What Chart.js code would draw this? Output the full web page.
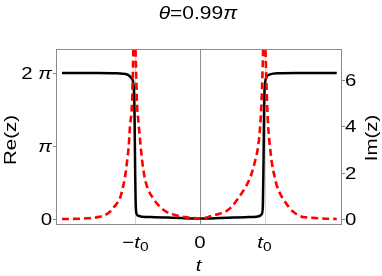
<!DOCTYPE html>
<html lang="en">
<head>
<meta charset="UTF-8">
<title>theta = 0.99 pi</title>
<script src="https://cdn.jsdelivr.net/npm/chart.js"></script>
<style>
  html, body { margin: 0; padding: 0; background: #fff; }
  canvas { display: block; }
</style>
</head>
<body>
<canvas id="c" width="382" height="276"></canvas>
<script>
// Re(z): black solid line
const reT    = [-2.14, -1.6, -1.3, -1.2, -1.11, -1.06, -1.03, -1.015, -1.005, -0.995, -0.98, -0.95, -0.9, -0.7, -0.5, -0.3, 0,
                0.3, 0.5, 0.7, 0.9, 0.93, 0.96, 0.975, 0.985, 0.995, 1.01, 1.034, 1.085, 1.2, 1.5, 2.12];
const reVals = [6.28, 6.28, 6.27, 6.25, 6.19, 6.05, 5.75, 4.5, 2.0, 0.5, 0.2, 0.13, 0.1, 0.08, 0.06, 0.04, 0.02,
                0.04, 0.06, 0.08, 0.11, 0.14, 0.22, 0.6, 2.5, 5.0, 5.85, 6.12, 6.22, 6.27, 6.28, 6.28];

// Im(z): red dashed line (peaks run off the top of the frame)
const imT    = [-2.14, -1.9, -1.75, -1.65, -1.5, -1.4, -1.35, -1.28, -1.24, -1.2, -1.16, -1.13, -1.106, -1.085, -1.054, -1.035, -1.016,
                -0.997, -0.977, -0.955, -0.926, -0.89, -0.853, -0.8, -0.729, -0.63, -0.519, -0.43, -0.341, -0.2, -0.1, 0,
                0.1, 0.181, 0.29, 0.388, 0.49, 0.594, 0.69, 0.775, 0.85, 0.904, 0.93, 0.955, 0.978, 0.997,
                1.016, 1.04, 1.059, 1.085, 1.112, 1.15, 1.189, 1.25, 1.318, 1.38, 1.446, 1.51, 1.577, 1.66, 1.75, 1.9, 2.12];
const imVals = [0.0, 0.01, 0.03, 0.05, 0.14, 0.3, 0.46, 0.7, 0.89, 1.3, 1.85, 2.5, 3.1, 4.0, 5.0, 7.0, 9.5,
                7.0, 5.0, 4.2, 3.3, 2.35, 1.72, 1.25, 0.9, 0.55, 0.31, 0.21, 0.14, 0.07, 0.04, 0.03,
                0.06, 0.14, 0.22, 0.31, 0.52, 0.9, 1.3, 1.76, 2.45, 3.18, 3.9, 5.1, 7.2, 9.5,
                7.2, 5.0, 3.9, 3.1, 2.46, 1.9, 1.46, 1.05, 0.74, 0.5, 0.31, 0.19, 0.1, 0.07, 0.05, 0.02, 0.0];

const xTickValues = [-1, 0, 1];
const xTickLabels = ['−t0', '0', 't0'];
const leftTickValues = [0, Math.PI, 2 * Math.PI];
const leftTickLabels = ['0', 'π', '2 π'];
const rightTickValues = [0, 2, 4, 6];
const rightTickLabels = ['0', '2', '4', '6'];

const titleText = 'θ=0.99π';
const xTitle = 't';
const leftTitle = 'Re(z)';
const rightTitle = 'Im(z)';

const SX = 1.2; // glyphs in the reference are a bit wider than Arial
const FAMILY = '"Liberation Sans", Arial, sans-serif';

function toParts(label, size) {
  const parts = [];
  for (let i = 0; i < label.length; i++) {
    const ch = label[i];
    if (ch === 't' || ch === 'π' || ch === 'θ') parts.push({ t: ch, i: true, s: size });
    else if (ch === '0' && label[i - 1] === 't') parts.push({ t: ch, s: 13, dy: 3 });
    else parts.push({ t: ch, s: size });
  }
  return parts;
}

function rich(ctx, label, x, y, align, angle, size) {
  const parts = toParts(label, size || 17);
  ctx.save();
  ctx.translate(x, y);
  if (angle) ctx.rotate(angle);
  ctx.scale(SX, 1);
  let w = 0;
  parts.forEach(p => {
    ctx.font = (p.i ? 'italic ' : '') + p.s + 'px ' + FAMILY;
    p.w = ctx.measureText(p.t).width;
    w += p.w;
  });
  let cx = align === 'center' ? -w / 2 : align === 'right' ? -w : 0;
  parts.forEach(p => {
    ctx.font = (p.i ? 'italic ' : '') + p.s + 'px ' + FAMILY;
    ctx.fillText(p.t, cx, p.dy || 0);
    cx += p.w;
  });
  ctx.restore();
}

const deco = {
  id: 'deco',
  beforeDatasetsDraw(chart) {
    const { ctx, chartArea: a, scales: { x } } = chart;
    ctx.save();
    ctx.lineWidth = 1;
    xTickValues.forEach(v => {
      const px = Math.round(x.getPixelForValue(v)) + 0.5;
      ctx.strokeStyle = v === 0 ? '#8f8f8f' : '#d4d4d4';
      ctx.beginPath();
      ctx.moveTo(px, a.top);
      ctx.lineTo(px, a.bottom);
      ctx.stroke();
    });
    ctx.restore();
  },
  afterDraw(chart) {
    const { ctx, chartArea: a, scales: { x, y } } = chart;
    ctx.save();
    // frame
    ctx.strokeStyle = '#8a8a8a';
    ctx.lineWidth = 1;
    ctx.strokeRect(Math.round(a.left) - 0.5, Math.round(a.top) + 0.5,
                   Math.round(a.right - a.left) + 1, Math.round(a.bottom - a.top) - 1);
    // tick marks
    ctx.beginPath();
    leftTickValues.forEach(v => {
      const py = Math.round(y.getPixelForValue(v)) + 0.5;
      ctx.moveTo(a.left - 4, py); ctx.lineTo(a.left, py);
    });
    rightTickValues.forEach(v => {
      const py = Math.round(y.getPixelForValue(v)) + 0.5;
      ctx.moveTo(a.right, py); ctx.lineTo(a.right + 4, py);
    });
    ctx.stroke();

    ctx.fillStyle = '#000';
    ctx.textBaseline = 'alphabetic';
    leftTickValues.forEach((v, i) => rich(ctx, leftTickLabels[i], a.left - 5, y.getPixelForValue(v) + 6, 'right'));
    rightTickValues.forEach((v, i) => rich(ctx, rightTickLabels[i], a.right + 4, y.getPixelForValue(v) + 6, 'left'));
    xTickValues.forEach((v, i) => rich(ctx, xTickLabels[i], x.getPixelForValue(v), 248, 'center'));

    rich(ctx, titleText, 198, 18.5, 'center', 0, 17.5);
    rich(ctx, xTitle, 198.5, 271, 'center');

    ctx.textBaseline = 'middle';
    rich(ctx, leftTitle, 11, 140, 'center', -Math.PI / 2);
    rich(ctx, rightTitle, 372, 138, 'center', -Math.PI / 2);
    ctx.restore();
  }
};

new Chart(document.getElementById('c'), {
  type: 'line',
  data: {
    datasets: [
      {
        label: 'Im(z)',
        data: imT.map((t, i) => ({ x: t, y: imVals[i] })),
        borderColor: '#ff0000',
        borderWidth: 2.6,
        borderDash: [7, 4],
        pointRadius: 0,
        cubicInterpolationMode: 'monotone',
        clip: 0,
        order: 0
      },
      {
        label: 'Re(z)',
        data: reT.map((t, i) => ({ x: t, y: reVals[i] })),
        borderColor: '#000000',
        borderWidth: 2.5,
        pointRadius: 0,
        cubicInterpolationMode: 'monotone',
        clip: 0,
        order: 1
      }
    ]
  },
  options: {
    responsive: false,
    animation: false,
    devicePixelRatio: 1,
    layout: { padding: { left: 57, right: 41, top: 49, bottom: 51 } },
    scales: {
      x: { type: 'linear', min: -2.217, max: 2.186, display: false },
      y: { type: 'linear', min: -0.258, max: 7.312, display: false }
    },
    plugins: { legend: { display: false }, tooltip: { enabled: false } }
  },
  plugins: [deco]
});
</script>
</body>
</html>
